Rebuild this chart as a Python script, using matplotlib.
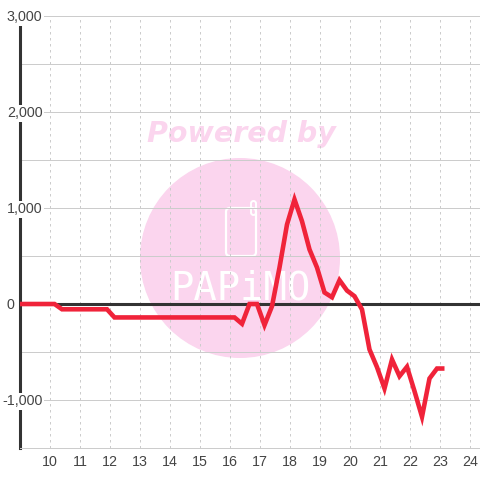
"""Red intraday line with a pink watermark behind the grid."""

import matplotlib
matplotlib.use("Agg")
import matplotlib.pyplot as plt
from matplotlib.patches import Circle, FancyBboxPatch
from matplotlib.transforms import Affine2D

hours = [9.0, 10.15, 10.4, 11.9, 12.15, 16.15, 16.4, 16.65, 16.9, 17.15, 17.4, 17.65,
         17.9, 18.15, 18.4, 18.65, 18.9, 19.15, 19.4, 19.65, 19.9, 20.15, 20.4, 20.65,
         20.9, 21.15, 21.4, 21.65, 21.9, 22.15, 22.4, 22.65, 22.9, 23.15]
values = [0, 0, -55, -55, -140, -140, -206, 0, 0, -220, -23, 380,
          828, 1089, 862, 568, 380, 120, 70, 248, 140, 81, -57, -474,
          -658, -880, -578, -752, -654, -908, -1175, -776, -672, -672]

x_ticks = list(range(10, 25))
y_grid = [-1500, -1000, -500, 0, 500, 1000, 1500, 2000, 2500, 3000]
y_labeled = [3000, 2000, 1000, 0, -1000]
y_labels = ["3,000", "2,000", "1,000", "0", "-1,000"]

RED = "#F0233A"
DARK = "#333333"
GRID = "#CCCCCC"
PINK = "#FBD5EE"
TEXT = "#444444"

plt.rcParams["font.family"] = ["Liberation Sans", "DejaVu Sans"]

fig = plt.figure(figsize=(4.8, 4.8), dpi=100)
ax = fig.add_axes([20 / 480, 32 / 480, 460 / 480, 432 / 480])
ax.set_xlim(9, 9 + 460 / 30)
ax.set_ylim(-1500, 3000)

for side in ["top", "right"]:
    ax.spines[side].set_visible(False)
ax.spines["left"].set_color(DARK)
ax.spines["left"].set_linewidth(2.2)
ax.spines["bottom"].set_color(GRID)
ax.spines["bottom"].set_linewidth(0.72)

# watermark is placed in image pixels, y going down
px = Affine2D().scale(1, -1).translate(0, 480)
ax.add_patch(Circle((240, 258), 100, transform=px, color=PINK, lw=0, zorder=0.1, clip_on=False))
ax.text(241.5, 134, "Powered by", transform=px, color=PINK, fontsize=20.5, fontweight="bold",
        fontstyle="oblique", family="DejaVu Sans", ha="center", va="center", zorder=0.2)
ax.add_patch(FancyBboxPatch((226, 208), 30, 48, boxstyle="round,pad=0,rounding_size=4", transform=px,
                            fill=False, ec="white", lw=1.6, zorder=0.3, clip_on=False))
ax.add_patch(FancyBboxPatch((251, 201), 5, 14, boxstyle="round,pad=0,rounding_size=2.5", transform=px,
                            fill=False, ec="white", lw=1.4, zorder=0.3, clip_on=False))
ax.text(240, 289, "PAPiMO", transform=px, color="white", fontsize=28, family="DejaVu Sans Mono",
        ha="center", va="center", zorder=0.3)

for y in y_grid:
    ax.axhline(y, color=GRID, lw=0.72, zorder=1)
for x in x_ticks:
    ax.axvline(x, color=GRID, lw=0.72, ls=(0, (2.5, 3.5)), zorder=1)
ax.axhline(0, color=DARK, lw=2.2, zorder=2)

ax.plot(hours, values, color=RED, lw=3.3, solid_joinstyle="miter", solid_capstyle="butt",
        zorder=3, clip_on=False)

ax.set_xticks(x_ticks)
ax.set_yticks([])
ax.tick_params(axis="x", length=0, pad=5, labelsize=10.3, labelcolor=TEXT)

# y labels sit on top of the axis line with a white box behind them
for y, label in zip(y_labeled, y_labels):
    lx = 8.82 if y == 0 else 9.75
    ax.annotate(label, (lx, y), xytext=(0, -0.8), textcoords="offset points", color=TEXT, fontsize=10.3,
                ha="right", va="center", zorder=4, annotation_clip=False,
                bbox=dict(facecolor="white", edgecolor="none", pad=1.0))

fig.savefig("out.png", dpi=100)
